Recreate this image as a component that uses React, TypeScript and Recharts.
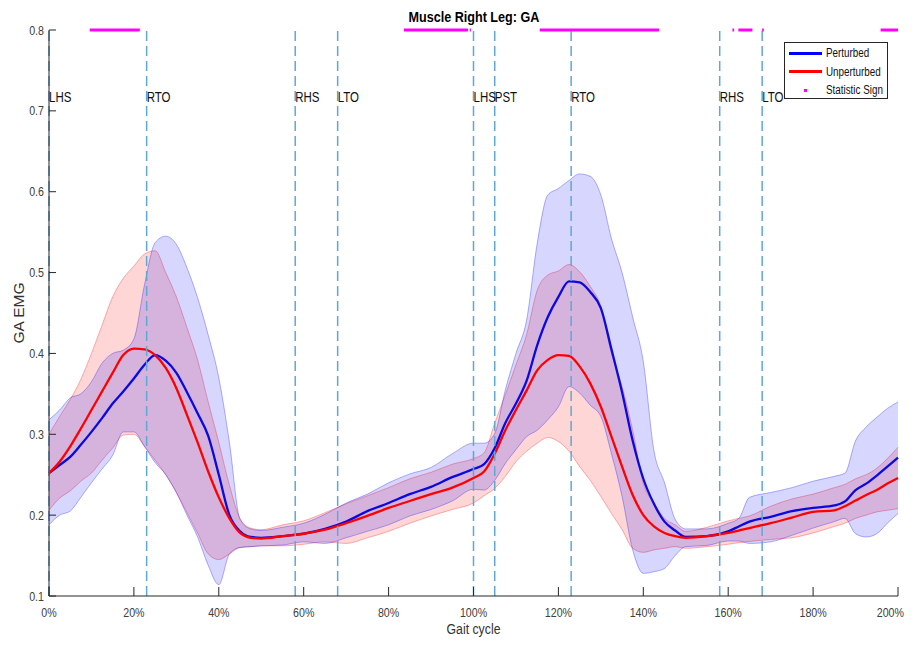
import React from 'react';
import { ComposedChart, Area, Line, XAxis, YAxis, ReferenceLine, ReferenceDot, Legend } from 'recharts';

const FONT = '"Liberation Sans", Arial, Helvetica, sans-serif';
// the original uses a condensed Helvetica; squeeze Liberation Sans horizontally
const SQUEEZE = 0.82;

// gait cycle (%) sample positions
const cycle = [
  0, 2.5, 5, 7.5, 10, 12.5, 15, 17.5, 20, 22.5,
  25, 27.5, 30, 32.5, 35, 37.5, 40, 42.5, 45, 47.5,
  50, 55, 60, 65, 70, 75, 80, 85, 90, 95,
  100, 102.5, 105, 107.5, 110, 112.5, 115, 117.5, 120, 122.5,
  125, 127.5, 130, 132.5, 135, 137.5, 140, 142.5, 145, 147.5,
  150, 155, 160, 162.5, 165, 170, 175, 180, 185, 187.5,
  190, 192.5, 195, 197.5, 200,
];

// Perturbed (blue)
const pMean = [
  0.252, 0.262, 0.272, 0.287, 0.303, 0.32, 0.338, 0.353, 0.369, 0.386,
  0.398, 0.391, 0.376, 0.352, 0.326, 0.298, 0.25, 0.2, 0.18, 0.173,
  0.172, 0.174, 0.177, 0.183, 0.192, 0.205, 0.215, 0.226, 0.235, 0.247,
  0.257, 0.263, 0.283, 0.314, 0.338, 0.366, 0.41, 0.445, 0.47, 0.489,
  0.488, 0.476, 0.456, 0.405, 0.352, 0.292, 0.245, 0.214, 0.192, 0.181,
  0.173, 0.174, 0.18, 0.186, 0.192, 0.198, 0.205, 0.209, 0.212, 0.217,
  0.231, 0.239, 0.249, 0.26, 0.271,
];
const pHi = [
  0.318, 0.33, 0.345, 0.35, 0.365, 0.388, 0.4, 0.404, 0.418, 0.485,
  0.537, 0.545, 0.535, 0.506, 0.469, 0.423, 0.37, 0.29, 0.195, 0.183,
  0.181, 0.185, 0.19, 0.201, 0.215, 0.226, 0.24, 0.251, 0.259, 0.276,
  0.289, 0.289, 0.301, 0.355, 0.4, 0.441, 0.536, 0.596, 0.604, 0.614,
  0.622, 0.619, 0.596, 0.542, 0.5, 0.445, 0.39, 0.28, 0.24, 0.195,
  0.183, 0.183, 0.19, 0.196, 0.222, 0.228, 0.234, 0.242, 0.248, 0.252,
  0.292, 0.309, 0.321, 0.332, 0.34,
];
const pLo = [
  0.188, 0.2, 0.205, 0.222, 0.24, 0.257, 0.274, 0.303, 0.303, 0.285,
  0.265, 0.25, 0.228, 0.2, 0.173, 0.138, 0.114, 0.152, 0.16, 0.161,
  0.162, 0.163, 0.167, 0.165, 0.172, 0.18, 0.188, 0.199, 0.207, 0.2175,
  0.232, 0.231, 0.243, 0.264, 0.281, 0.297, 0.305, 0.318, 0.334, 0.359,
  0.351, 0.336, 0.322, 0.276, 0.223, 0.157, 0.128, 0.13, 0.134, 0.15,
  0.161, 0.1625, 0.168, 0.168, 0.165, 0.167, 0.175, 0.184, 0.192, 0.196,
  0.177, 0.173, 0.177, 0.19, 0.202,
];

// Unperturbed (red)
const uMean = [
  0.252, 0.266, 0.285, 0.307, 0.33, 0.353, 0.376, 0.398, 0.406, 0.405,
  0.398, 0.382, 0.357, 0.324, 0.29, 0.254, 0.222, 0.196, 0.178, 0.172,
  0.171, 0.174, 0.177, 0.182, 0.19, 0.199, 0.209, 0.2175, 0.226, 0.234,
  0.246, 0.254, 0.276, 0.305, 0.33, 0.354, 0.379, 0.392, 0.398, 0.397,
  0.384, 0.363, 0.334, 0.297, 0.26, 0.225, 0.2, 0.186, 0.178, 0.174,
  0.172, 0.174, 0.178, 0.181, 0.184, 0.19, 0.197, 0.204, 0.206, 0.211,
  0.218, 0.225, 0.231, 0.239, 0.246,
];
const uHi = [
  0.3, 0.322, 0.343, 0.368, 0.4, 0.435, 0.47, 0.493, 0.508, 0.523,
  0.527, 0.5, 0.47, 0.432, 0.392, 0.34, 0.29, 0.237, 0.196, 0.184,
  0.182, 0.188, 0.193, 0.203, 0.214, 0.224, 0.234, 0.245, 0.253, 0.263,
  0.27, 0.277, 0.314, 0.349, 0.386, 0.423, 0.478, 0.497, 0.502, 0.51,
  0.501, 0.483, 0.458, 0.4, 0.359, 0.305, 0.239, 0.215, 0.196, 0.188,
  0.18, 0.185, 0.193, 0.196, 0.199, 0.211, 0.22, 0.226, 0.234, 0.238,
  0.245, 0.25, 0.258, 0.27, 0.284,
];
const uLo = [
  0.206, 0.221, 0.23, 0.242, 0.252, 0.268, 0.283, 0.299, 0.3, 0.285,
  0.268, 0.25, 0.228, 0.203, 0.178, 0.152, 0.145, 0.152, 0.16, 0.161,
  0.162, 0.162, 0.164, 0.167, 0.165, 0.172, 0.18, 0.19, 0.199, 0.207,
  0.215, 0.224, 0.233, 0.248, 0.266, 0.279, 0.289, 0.296, 0.291, 0.279,
  0.26, 0.243, 0.223, 0.202, 0.182, 0.159, 0.154, 0.157, 0.159, 0.161,
  0.159, 0.161, 0.164, 0.166, 0.1675, 0.17, 0.172, 0.178, 0.186, 0.19,
  0.196, 0.2, 0.204, 0.206, 0.208,
];

const xTicks = [0, 20, 40, 60, 80, 100, 120, 140, 160, 180, 200];
const yTicks = [0.1, 0.2, 0.3, 0.4, 0.5, 0.6, 0.7, 0.8];

// gait events
const eventPos = [0, 23, 58, 68, 100, 105, 123, 158, 168];
const eventNames = ['LHS', 'RTO', 'RHS', 'LTO', 'LHS', 'PST', 'RTO', 'RHS', 'LTO'];

// statistically significant stretches (% of cycle)
const sigStart = [9.6, 83.6, 99.1, 115.6, 161, 162.4, 168, 195.9];
const sigEnd = [21.4, 98.7, 99.4, 143.7, 161.4, 165.7, 168.4, 200];

const legendNames = ['Perturbed', 'Unperturbed', 'Statistic Sign'];
const legendColors = ['#0000ff', '#ff0000', '#ff00ff'];

const SIG_LEVEL = 0.8;
const LABEL_LEVEL = 0.717;

const rows = cycle.map((c, i) => ({
  c,
  pBand: [pLo[i], pHi[i]],
  uBand: [uLo[i], uHi[i]],
  pMean: pMean[i],
  uMean: uMean[i],
}));

function SText({ x, y, size, anchor = 'start', fill = '#404040', weight = 'normal', children }: any) {
  return (
    <text
      transform={`translate(${x} ${y}) scale(${SQUEEZE} 1)`}
      textAnchor={anchor}
      fontSize={size}
      fontWeight={weight}
      fill={fill}
      fontFamily={FONT}
    >
      {children}
    </text>
  );
}

function XTick({ x, y, payload }: any) {
  // keep the last label inside the visible page
  const last = payload.value === xTicks[xTicks.length - 1];
  return (
    <g>
      <line x1={x} x2={x} y1={y} y2={y - 9} stroke="#262626" />
      <SText x={last ? x + 6 : x} y={y + 21} size={13} anchor={last ? 'end' : 'middle'}>{payload.value}%</SText>
    </g>
  );
}

function YTick({ x, y, payload }: any) {
  return (
    <g>
      <line x1={x} x2={x + 7} y1={y} y2={y} stroke="#262626" />
      <SText x={x - 5} y={y + 4.5} size={13} anchor="end">{payload.value.toFixed(1)}</SText>
    </g>
  );
}

const eventLabel = (name: string) => (props: any) => (
  <SText x={props.cx} y={props.cy + 5} size={14} fill="#111">{name}</SText>
);

function LegendBox() {
  return (
    <div style={{ position: 'relative', width: 104, height: 57, boxSizing: 'border-box', border: '1px solid #262626', background: '#fff', fontFamily: FONT, fontSize: 12, color: '#111' }}>
      {legendNames.map((n, i) => (
        <div key={n} style={{ position: 'absolute', top: 2 + i * 18.5, left: 4, height: 16, display: 'flex', alignItems: 'center', whiteSpace: 'nowrap' }}>
          <span style={{ width: 33, display: 'flex', justifyContent: 'center' }}>
            {i < 2
              ? <span style={{ width: 33, height: 3, background: legendColors[i] }} />
              : <span style={{ width: 3, height: 3, background: legendColors[i] }} />}
          </span>
          <span style={{ marginLeft: 4, display: 'inline-block', transform: `scaleX(${SQUEEZE})`, transformOrigin: 'left center' }}>{n}</span>
        </div>
      ))}
    </div>
  );
}

export default function App() {
  return (
    <div style={{ position: 'relative', margin: -8, width: 914, height: 645, background: '#fff' }}>
      <div style={{ position: 'absolute', top: 8, left: 49, width: 849, textAlign: 'center', lineHeight: '17px' }}>
        <span style={{ display: 'inline-block', transform: 'scaleX(0.84)', fontFamily: FONT, fontWeight: 'bold', fontSize: 15, color: '#000', whiteSpace: 'nowrap' }}>
          Muscle Right Leg: GA
        </span>
      </div>
      <ComposedChart width={914} height={645} data={rows} margin={{ top: 30, right: 16, left: 0, bottom: 0 }}>
        <XAxis
          dataKey="c"
          type="number"
          domain={[0, 200]}
          ticks={xTicks}
          interval={0}
          height={49}
          tickSize={0}
          tickMargin={0}
          tickLine={false}
          axisLine={{ stroke: '#262626' }}
          tick={<XTick />}
          label={{
            content: ({ viewBox }: any) => (
              <SText x={viewBox.x + viewBox.width / 2} y={viewBox.y + 38} size={15} anchor="middle" fill="#333">
                Gait cycle
              </SText>
            ),
          }}
        />
        <YAxis
          type="number"
          domain={[0.1, 0.8]}
          ticks={yTicks}
          interval={0}
          width={49}
          tickSize={0}
          tickMargin={0}
          tickLine={false}
          allowDataOverflow
          axisLine={{ stroke: '#262626' }}
          tick={<YTick />}
          label={{
            content: ({ viewBox }: any) => {
              const cx = viewBox.x + 18;
              const cy = viewBox.y + viewBox.height / 2;
              return (
                <text x={cx} y={cy} transform={`rotate(-90 ${cx} ${cy})`} textAnchor="middle" dominantBaseline="central" fontSize={15.5} fill="#333" fontFamily={FONT}>
                  GA EMG
                </text>
              );
            },
          }}
        />
        <Area type="monotone" dataKey="uBand" fill="#ff0000" fillOpacity={0.16} stroke="#ff0000" strokeOpacity={0.3} strokeWidth={1} dot={false} activeDot={false} isAnimationActive={false} />
        <Area type="monotone" dataKey="pBand" fill="#0000ff" fillOpacity={0.16} stroke="#0000ff" strokeOpacity={0.3} strokeWidth={1} dot={false} activeDot={false} isAnimationActive={false} />
        <Line type="monotone" dataKey="pMean" stroke="#0a0ae0" strokeWidth={2.3} dot={false} activeDot={false} isAnimationActive={false} />
        <Line type="monotone" dataKey="uMean" stroke="#ff0000" strokeWidth={2.3} dot={false} activeDot={false} isAnimationActive={false} />
        {eventPos.map((p, i) => (
          <ReferenceLine key={`ev${i}`} x={p} stroke="#5ea8d8" strokeWidth={1.5} strokeDasharray="10 5" />
        ))}
        {eventPos.map((p, i) => (
          <ReferenceDot key={`lb${i}`} x={p} y={LABEL_LEVEL} r={0} shape={eventLabel(eventNames[i])} />
        ))}
        {sigStart.map((s, i) => (
          <ReferenceLine
            key={`sig${i}`}
            segment={[{ x: s, y: SIG_LEVEL }, { x: sigEnd[i], y: SIG_LEVEL }]}
            stroke="#ff00ff"
            strokeWidth={3}
            ifOverflow="visible"
          />
        ))}
        <Legend
          layout="vertical"
          align="center"
          verticalAlign="middle"
          wrapperStyle={{ top: 42, left: 784, width: 104, height: 57 }}
          content={() => <LegendBox />}
        />
      </ComposedChart>
    </div>
  );
}
